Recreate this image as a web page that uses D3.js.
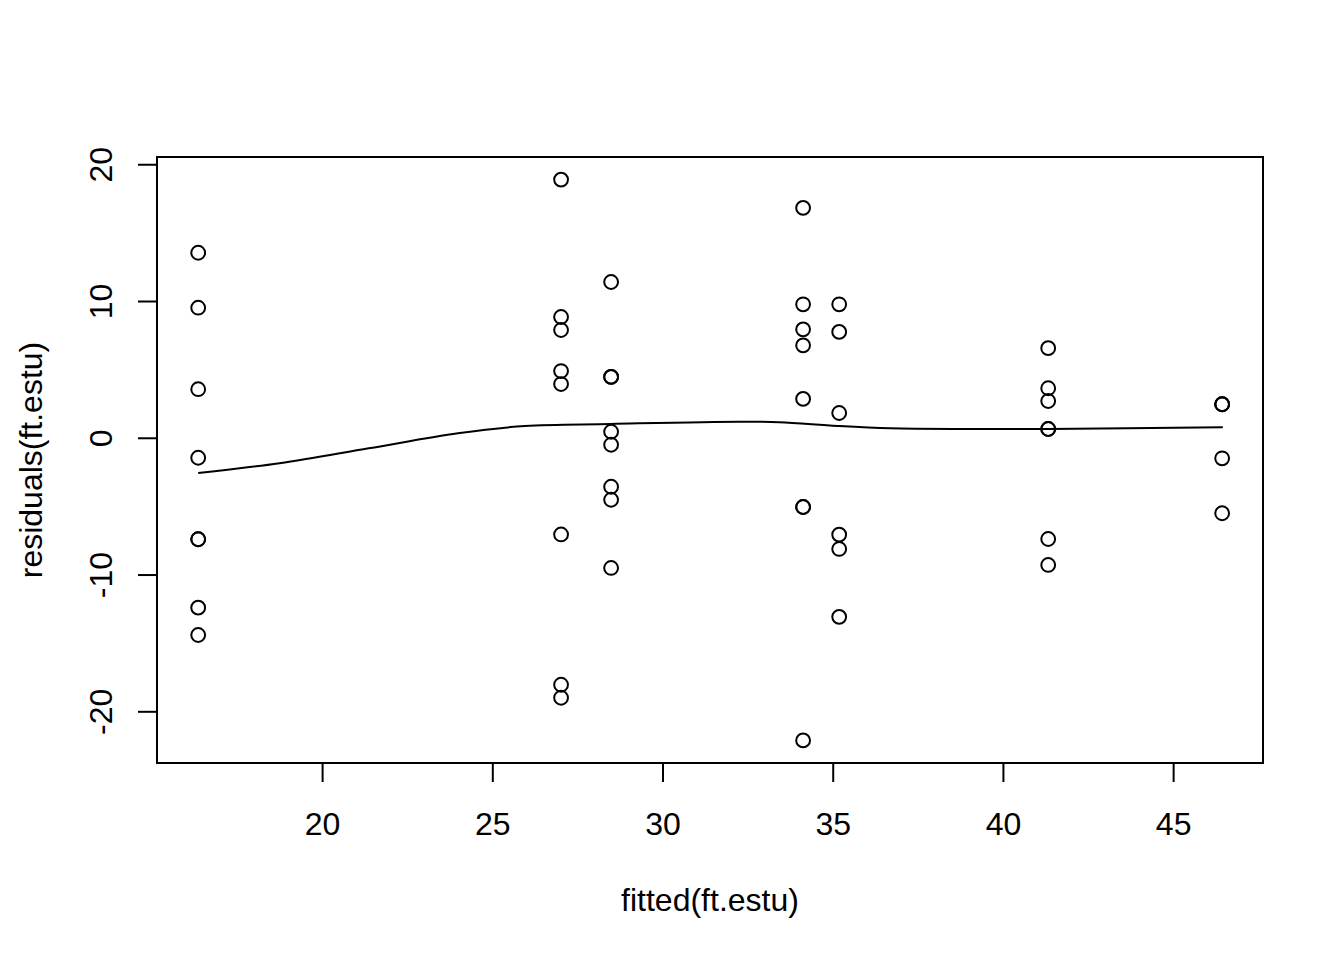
<!DOCTYPE html>
<html>
<head>
<meta charset="utf-8">
<script src="https://cdn.jsdelivr.net/npm/d3@7"></script>
<style>
  body { margin: 0; background: #fff; }
  svg text { font-family: "Liberation Sans", Arial, Helvetica, sans-serif; fill: #000; }
</style>
</head>
<body>
<div id="app"></div>
<script>
// fitted values (one per group) and the residuals read for each group
const fittedGroups = [16.36, 27.02, 28.49, 34.13, 35.19, 41.33, 46.44];
const residualGroups = [
  [13.53, 9.51, 3.55, -1.46, -7.42, -7.42, -12.42, -14.42],
  [18.88, 8.83, 7.88, 4.88, 3.93, -7.07, -18.06, -19.01],
  [11.39, 4.45, 4.45, 0.44, -0.51, -3.58, -4.53, -9.52],
  [16.81, 9.76, 7.93, 6.76, 2.84, -5.06, -5.06, -22.13],
  [9.76, 7.74, 1.81, -7.08, -8.13, -13.09],
  [6.55, 3.62, 2.69, 0.64, 0.64, -7.4, -9.3],
  [2.45, 2.45, 2.45, -1.5, -5.52]
];

// smoother line
const smoothX = [16.36, 18.75, 21.37, 23.99, 25.96, 28.49, 32.25, 33.43, 35.14, 36.69, 39.0, 41.33, 46.46];
const smoothY = [-2.58, -1.86, -0.77, 0.33, 0.86, 1.01, 1.18, 1.13, 0.86, 0.69, 0.64, 0.64, 0.77];

const xTicks = [20, 25, 30, 35, 40, 45];
const yTicks = [-20, -10, 0, 10, 20];
const xLabel = 'fitted(ft.estu)';
const yLabel = 'residuals(ft.estu)';

const width = 1344;
const height = 960;
const margin = { left: 157, right: 81, top: 157, bottom: 197 };
const fontSize = 32;
const lwd = 2;

const points = fittedGroups.flatMap((f, i) => residualGroups[i].map(r => ({ x: f, y: r })));

const x = d3.scaleLinear()
  .domain([15.15, 47.64])
  .range([margin.left, width - margin.right]);

const y = d3.scaleLinear()
  .domain([-23.78, 20.53])
  .range([height - margin.bottom, margin.top]);

const svg = d3.select('#app').append('svg')
  .attr('width', width)
  .attr('height', height);

svg.append('rect')
  .attr('width', width)
  .attr('height', height)
  .attr('fill', '#fff');

// axes, R style: ticks outward, plain hyphen for negatives
const fmt = d => String(d);

const xAxis = svg.append('g')
  .attr('transform', `translate(0,${height - margin.bottom})`)
  .call(d3.axisBottom(x).tickValues(xTicks).tickSize(19).tickFormat(fmt));

const yAxis = svg.append('g')
  .attr('transform', `translate(${margin.left},0)`)
  .call(d3.axisLeft(y).tickValues(yTicks).tickSize(19).tickFormat(fmt));

[xAxis, yAxis].forEach(g => {
  g.select('.domain').remove();
  g.selectAll('.tick line').attr('stroke', '#000').attr('stroke-width', lwd);
  g.selectAll('.tick text')
    .attr('font-size', fontSize)
    .attr('font-family', '"Liberation Sans", Arial, sans-serif')
    .attr('fill', '#000');
});

xAxis.selectAll('.tick text')
  .attr('y', 72)
  .attr('dy', 0);

yAxis.selectAll('.tick text')
  .attr('x', 0)
  .attr('y', 0)
  .attr('dy', 0)
  .attr('text-anchor', 'middle')
  .attr('transform', 'translate(-45,0) rotate(-90)');

// plot box
svg.append('rect')
  .attr('x', margin.left)
  .attr('y', margin.top)
  .attr('width', width - margin.left - margin.right)
  .attr('height', height - margin.top - margin.bottom)
  .attr('fill', 'none')
  .attr('stroke', '#000')
  .attr('stroke-width', lwd);

// points
svg.append('g')
  .selectAll('circle')
  .data(points)
  .enter().append('circle')
  .attr('cx', d => x(d.x))
  .attr('cy', d => y(d.y))
  .attr('r', 6.9)
  .attr('fill', 'none')
  .attr('stroke', '#000')
  .attr('stroke-width', lwd);

// smoother
const line = d3.line()
  .x(d => x(d[0]))
  .y(d => y(d[1]))
  .curve(d3.curveCatmullRom.alpha(0.5));

svg.append('path')
  .datum(smoothX.map((v, i) => [v, smoothY[i]]))
  .attr('d', line)
  .attr('fill', 'none')
  .attr('stroke', '#000')
  .attr('stroke-width', lwd);

// axis titles
svg.append('text')
  .attr('x', (margin.left + width - margin.right) / 2)
  .attr('y', 911)
  .attr('text-anchor', 'middle')
  .attr('font-size', fontSize)
  .text(xLabel);

svg.append('text')
  .attr('transform', `translate(42,${(margin.top + height - margin.bottom) / 2}) rotate(-90)`)
  .attr('text-anchor', 'middle')
  .attr('font-size', fontSize)
  .text(yLabel);
</script>
</body>
</html>
